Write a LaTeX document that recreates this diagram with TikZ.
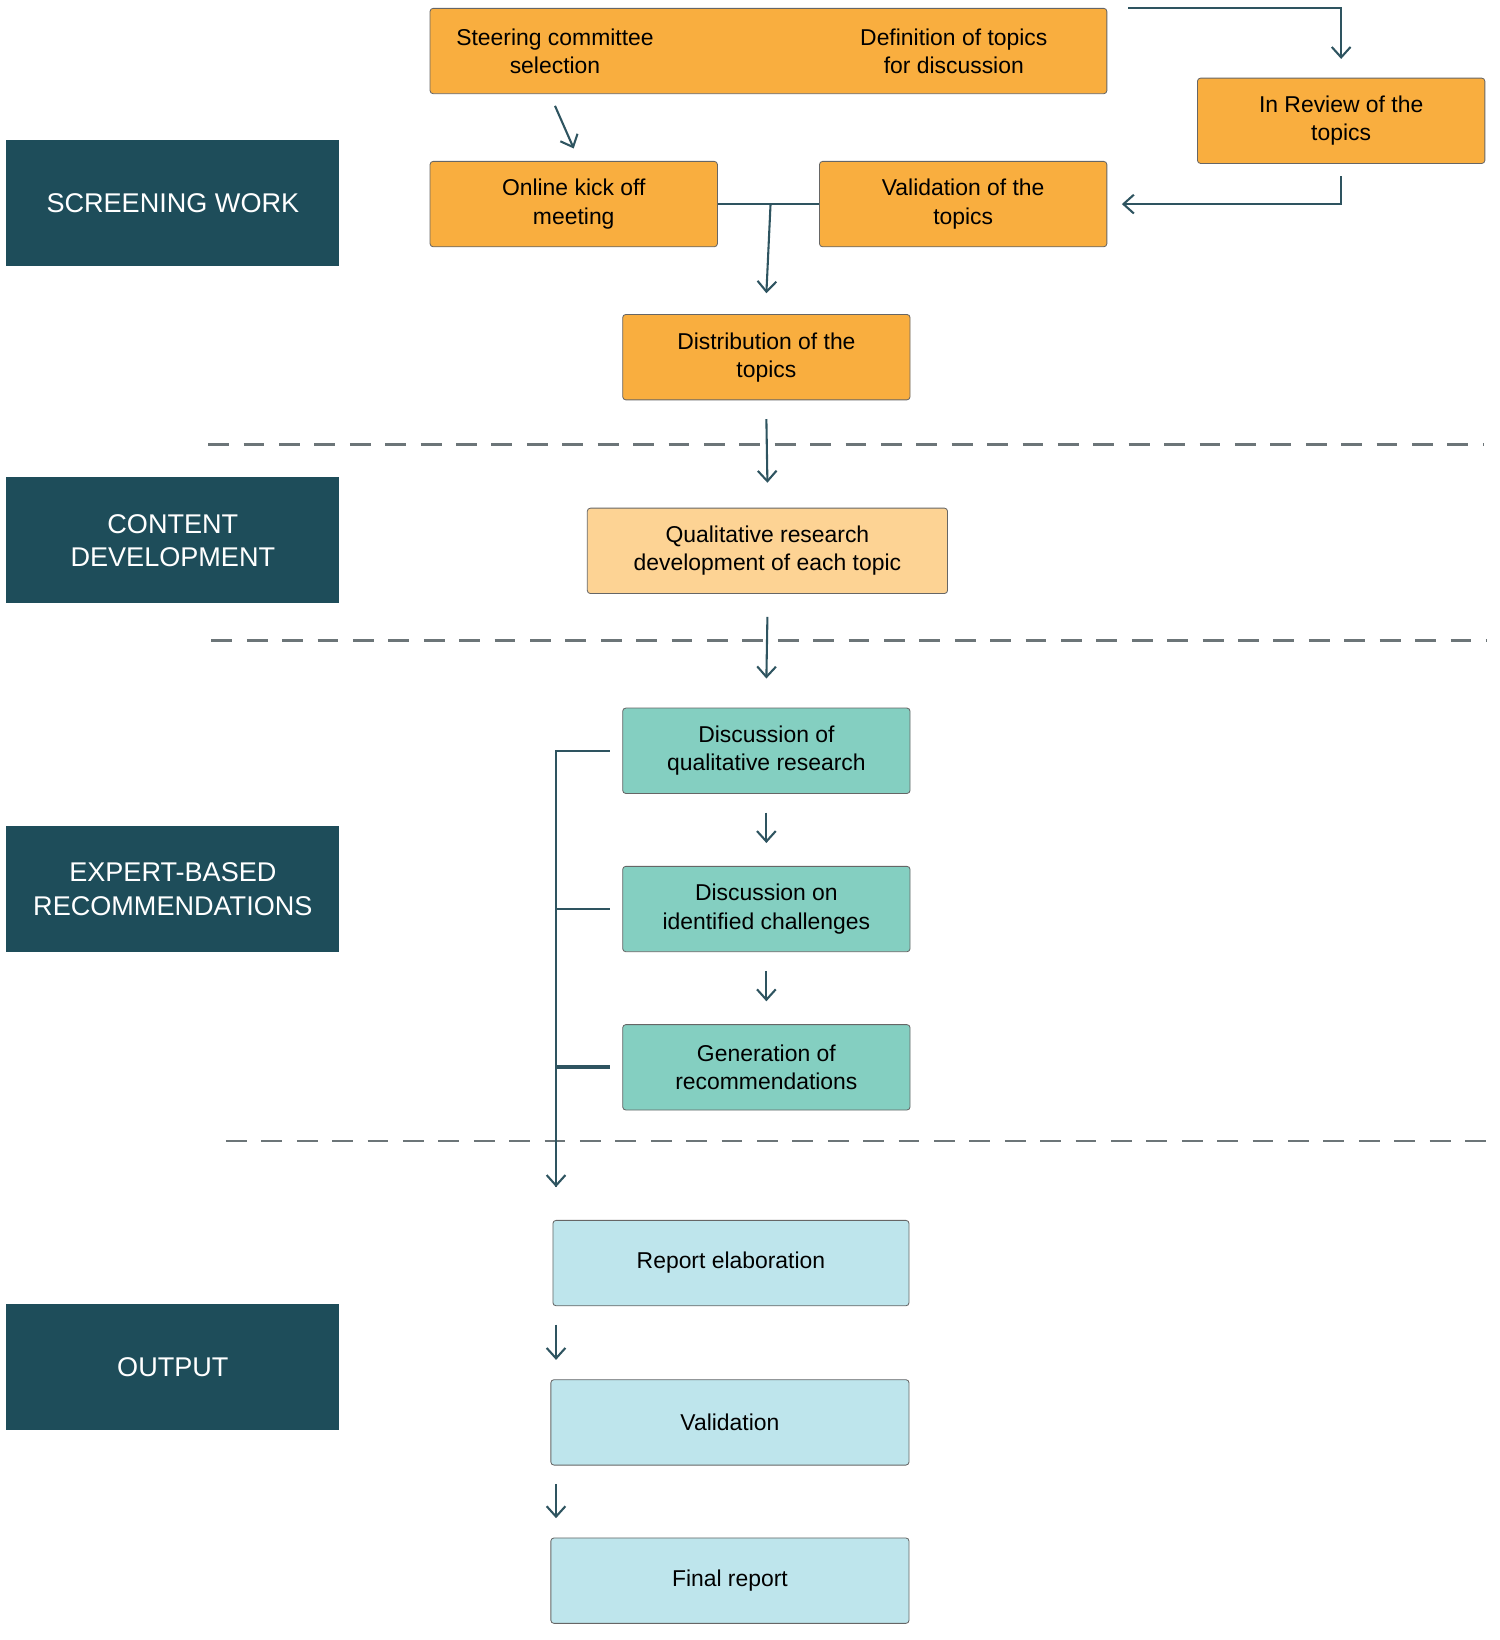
\documentclass[tikz,border=0pt]{standalone}
\usepackage{fontspec}
\setmainfont{Liberation Sans}
\usetikzlibrary{arrows.meta, positioning, calc}
\definecolor{orangebox}{HTML}{F9AE3F}
\definecolor{paleorange}{HTML}{FDD394}
\definecolor{tealbox}{HTML}{84CFC1}
\definecolor{bluebox}{HTML}{BEE5EC}
\definecolor{darkbox}{HTML}{1E4D5A}
\definecolor{linecol}{HTML}{2E5460}
\tikzset{
    stepbox/.style={draw=black!60, rounded corners=1.5pt, align=center, inner sep=0pt,
        minimum height=41pt, font=\fontsize{11}{13.5}\selectfont},
    phase/.style={fill=darkbox, text=white, align=center, minimum width=160pt,
        minimum height=60.5pt, inner sep=0pt, font=\fontsize{13}{16}\selectfont},
    flow/.style={draw=linecol, line width=1pt, -{Straight Barb[length=5pt, width=9pt]}},
    link/.style={draw=linecol, line width=1pt},
    sep/.style={draw=gray!80!darkbox, line width=1.2pt, dash pattern=on 10pt off 7pt}
}
\begin{document}
\begin{tikzpicture}[x=0.5pt, y=-0.5pt]
    \useasboundingbox (0,0) rectangle (1440,1575);
    % Phases
    \node (screen) [phase] at (166,195) {SCREENING WORK};
    \node (content) [phase] at (166,519) {CONTENT\\DEVELOPMENT};
    \node (expert) [phase] at (166,854) {EXPERT-BASED\\RECOMMENDATIONS};
    \node (output) [phase] at (166,1313) {OUTPUT};

    % Screening boxes
    \node (topbox) [stepbox, fill=orangebox, minimum width=325pt] at (738,49) {};
    \node (steer) [align=center, font=\fontsize{11}{13.5}\selectfont] at (533,49) {Steering committee\\selection};
    \node (define) [align=center, font=\fontsize{11}{13.5}\selectfont] at (916,49) {Definition of topics\\for discussion};
    \node (review) [stepbox, fill=orangebox, minimum width=138pt] at (1288,116) {In Review of the\\topics};
    \node (kickoff) [stepbox, fill=orangebox, minimum width=138pt] at (551,196) {Online kick off\\meeting};
    \node (valid) [stepbox, fill=orangebox, minimum width=138pt] at (925,196) {Validation of the\\topics};
    \node (distrib) [stepbox, fill=orangebox, minimum width=138pt] at (736,343) {Distribution of the\\topics};

    % Content and expert boxes
    \node (quali) [stepbox, fill=paleorange, minimum width=173pt] at (737,529) {Qualitative research\\development of each topic};
    \node (discq) [stepbox, fill=tealbox, minimum width=138pt] at (736,721) {Discussion of\\qualitative research};
    \node (discc) [stepbox, fill=tealbox, minimum width=138pt] at (736,873) {Discussion on\\identified challenges};
    \node (gener) [stepbox, fill=tealbox, minimum width=138pt] at (736,1025) {Generation of\\recommendations};

    % Output boxes
    \node (report) [stepbox, fill=bluebox, minimum width=171pt] at (702,1213) {Report elaboration};
    \node (valout) [stepbox, fill=bluebox, minimum width=172pt] at (701,1366) {Validation};
    \node (final) [stepbox, fill=bluebox, minimum width=172pt] at (701,1518) {Final report};

    % Separators
    \draw[sep] (200,427) -- (1425,427);
    \draw[sep] (203,615) -- (1428,615);
    \draw[sep] (217,1096) -- (1428,1096);

    % Connectors
    \coordinate (join) at (740,196);
    \coordinate (rail) at (534,1140);
    \draw[flow] ([yshift=-12pt]steer.south) -- ([yshift=6pt]kickoff.north);
    \draw[flow] ([xshift=10pt,yshift=10pt]topbox.east |- 0,28) -| ([yshift=9pt]review.north);
    \draw[flow] ([yshift=-6pt]review.south) |- ([xshift=7pt]valid.east);
    \draw[link] (kickoff.east) -- (valid.west);
    \draw[flow] (join) -- ([yshift=10pt]distrib.north);
    \draw[flow] ([yshift=-9pt]distrib.south) -- ([yshift=12pt]quali.north);
    \draw[flow] ([yshift=-11pt]quali.south) -- ([yshift=14pt]discq.north);
    \draw[flow] ([yshift=-9pt]discq.south) -- ([yshift=11pt]discc.north);
    \draw[flow] ([yshift=-9pt]discc.south) -- ([yshift=11pt]gener.north);
    \draw[link] ([xshift=-6pt]discq.west) -| (rail);
    \draw[flow] (534,730) -- (rail);
    \draw[link] ([xshift=-6pt]discc.west) -- (534,873);
    \draw[link, line width=2pt] ([xshift=-6pt]gener.west) -- (534,1025);
    \draw[flow] (534,1272) -- (534,1306);
    \draw[flow] (534,1425) -- (534,1458);
\end{tikzpicture}
\end{document}
